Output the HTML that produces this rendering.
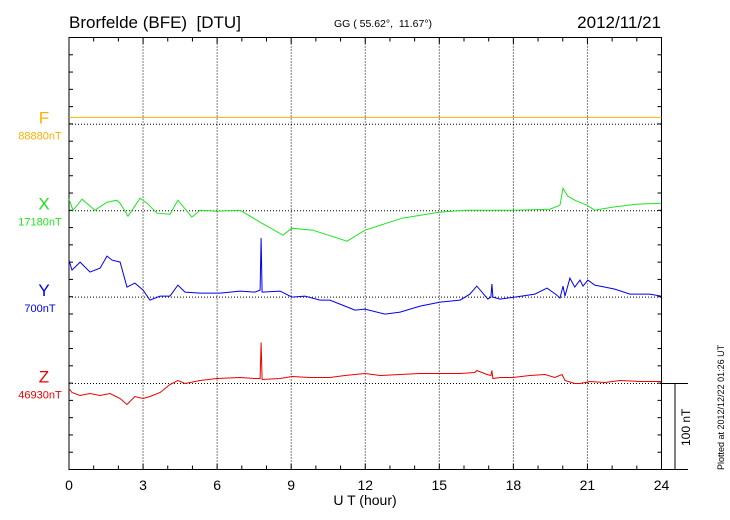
<!DOCTYPE html>
<html><head><meta charset="utf-8"><style>
body{margin:0;background:#fff}
svg{display:block;font-family:"Liberation Sans",sans-serif}
.pre{white-space:pre}
</style></head><body>
<svg id="c" width="730" height="520">
<text class="pre" x="69" y="28" font-size="17">Brorfelde (BFE)  [DTU]</text>
<text class="pre" x="383" y="27" font-size="10.5" text-anchor="middle">GG ( 55.62°,  11.67°)</text>
<text x="661" y="28" font-size="17" text-anchor="end">2012/11/21</text>
<text x="365" y="505" font-size="14" text-anchor="middle">U T (hour)</text>
<text transform="translate(724,470) rotate(-90)" font-size="9">Plotted at 2012/12/22 01:26 UT</text>
<text transform="translate(690,446) rotate(-90)" font-size="12">100 nT</text>
</svg>
<script>
const hoursF=[0,24];
const valsF=[8,8];
const hoursX=[0,0.16,0.53,1.05,1.54,1.94,2.07,2.39,2.88,3.16,3.56,4.09,4.41,4.98,5.31,5.99,6.93,7.74,8.67,9.03,9.88,11.26,11.99,13.49,14.99,16.04,17.98,19.48,19.89,20.01,20.21,20.49,20.98,21.3,21.99,22.97,23.98];
const valsX=[13.3,0.6,13.3,0.6,9.8,12.2,8.7,-6.4,14.5,8.7,-2.9,-4.1,12.2,-7.5,0.6,-0.6,0.6,-13.3,-28.4,-20.3,-22.6,-35.3,-22.6,-8.7,-1.7,0.6,0.6,1.7,6.4,26,16.8,12.2,6.4,0.6,4.1,7.5,8.7];
const hoursY=[0,0.12,0.45,0.85,1.26,1.54,1.74,2.07,2.35,2.67,3.0,3.28,3.69,4.09,4.41,4.7,5.31,6.12,6.93,7.53,7.74,7.78,7.82,8.55,9.03,9.56,10.17,10.57,11.18,11.58,11.99,12.8,13.41,14.22,15.03,15.84,16.24,16.52,16.97,17.09,17.13,17.17,17.46,18.06,18.87,19.36,19.76,19.89,20.01,20.09,20.29,20.49,20.7,20.82,21.02,21.3,21.71,22.11,22.72,23.53,23.98];
const valsY=[42.8,31.3,40.5,28.9,33.6,47.5,42.8,40.5,11.6,16.2,8.1,-3.5,1.2,1.2,13.9,5.8,4.6,4.6,6.9,5.8,8.1,68.3,5.8,6.9,0,1.2,-3.5,-3.5,-10.4,-15,-13.9,-19.7,-17.4,-10.4,-5.8,-3.5,3.5,12.7,-2.3,0,15,0,-2.3,0,3.5,10.4,2.3,-1.2,12.7,1.2,22,11.6,19.7,12.7,19.7,13.9,11.6,9.3,3.5,3.5,1.2];
const hoursZ=[0,0.12,0.45,0.85,1.26,1.66,2.07,2.35,2.67,3.0,3.28,3.69,4.09,4.41,4.7,5.31,5.99,6.93,7.53,7.74,7.78,7.82,8.55,9.03,9.76,10.57,11.18,11.99,12.6,13.41,14.22,15.03,15.84,16.44,16.52,16.93,17.09,17.13,17.17,17.46,17.98,18.67,19.28,19.68,19.97,20.09,20.49,20.7,21.1,21.71,22.32,23.13,23.98];
const valsZ=[-5.8,-10.4,-13.9,-11.6,-13.9,-11.6,-17.4,-24.3,-15,-17.4,-15,-10.4,-1.2,3.5,0,3.5,5.8,6.9,5.8,5.8,47.5,4.6,5.8,8.1,6.9,6.9,9.3,11.6,9.3,10.4,11.6,11.6,11.6,12.7,15,10.4,9.3,15,5.8,6.9,6.9,9.3,10.4,6.9,10.4,3.5,0,0,2.3,1.2,3.5,2.3,2.3];
const xTickLabels=["0","3","6","9","12","15","18","21","24"];
const compLetters=["F","X","Y","Z"];
const baseLabels=["88880nT","17180nT","700nT","46930nT"];

const L=69,R=661.5,T=37.5,B=469.5;
const NS="http://www.w3.org/2000/svg";
const svg=document.getElementById('c');
const xs=h=>L+(R-L)*h/24;
const pxPerNT=(B-T)/25/20;
const baseY=[124.3,210.7,297.1,383.5];
const colors=["#ffb000","#1ee61e","#0000ee","#ee0000"];
function mk(t,a){const e=document.createElementNS(NS,t);for(const k in a)e.setAttribute(k,a[k]);svg.appendChild(e);return e;}
for(let i=1;i<8;i++){const e=mk('line',{x1:xs(i*3),x2:xs(i*3),y1:T,y2:B,stroke:'#000','stroke-width':1,'stroke-dasharray':'1,2'});

}
baseY.forEach((y,i)=>{const e=mk('line',{x1:L,x2:R,y1:y,y2:y,stroke:'#000','stroke-width':1,'stroke-dasharray':'1,2'});

});
const fr=mk('rect',{x:L,y:T,width:R-L,height:B-T,fill:'none',stroke:'#000','stroke-width':1});


for(let h=0;h<=24;h++){const len=h%3===0?6:4;
mk('line',{x1:xs(h),x2:xs(h),y1:T,y2:T+len,stroke:'#000'});
mk('line',{x1:xs(h),x2:xs(h),y1:B,y2:B-len,stroke:'#000'});}
for(let j=1;j<25;j++){const y=T+j*(B-T)/25;
mk('line',{x1:L,x2:L+4,y1:y,y2:y,stroke:'#000'});
mk('line',{x1:R,x2:R-4,y1:y,y2:y,stroke:'#000'});}
xTickLabels.forEach((t,i)=>{const e=mk('text',{x:xs(i*3),y:490,'font-size':14,'text-anchor':'middle'});e.textContent=t;

});
mk('line',{x1:R,x2:688,y1:baseY[3],y2:baseY[3],stroke:'#000'});
mk('line',{x1:R,x2:688,y1:B,y2:B,stroke:'#000'});
const sb=mk('line',{x1:675,x2:675,y1:baseY[3],y2:B,stroke:'#000'});


compLetters.forEach((c,i)=>{const e=mk('text',{x:44,y:baseY[i]-1,'font-size':17,'text-anchor':'middle',fill:colors[i]});e.textContent=c;


const b=mk('text',{x:40,y:baseY[i]+15,'font-size':11,'text-anchor':'middle',fill:colors[i]});b.textContent=baseLabels[i];

});
const series=[[hoursF,valsF],[hoursX,valsX],[hoursY,valsY],[hoursZ,valsZ]];
series.forEach((s,i)=>{const pts=s[0].map((h,k)=>xs(h).toFixed(1)+','+(baseY[i]-s[1][k]*pxPerNT).toFixed(1)).join(' ');
const p=mk('polyline',{points:pts,fill:'none',stroke:colors[i],'stroke-width':1});

});
</script>
</body></html>
